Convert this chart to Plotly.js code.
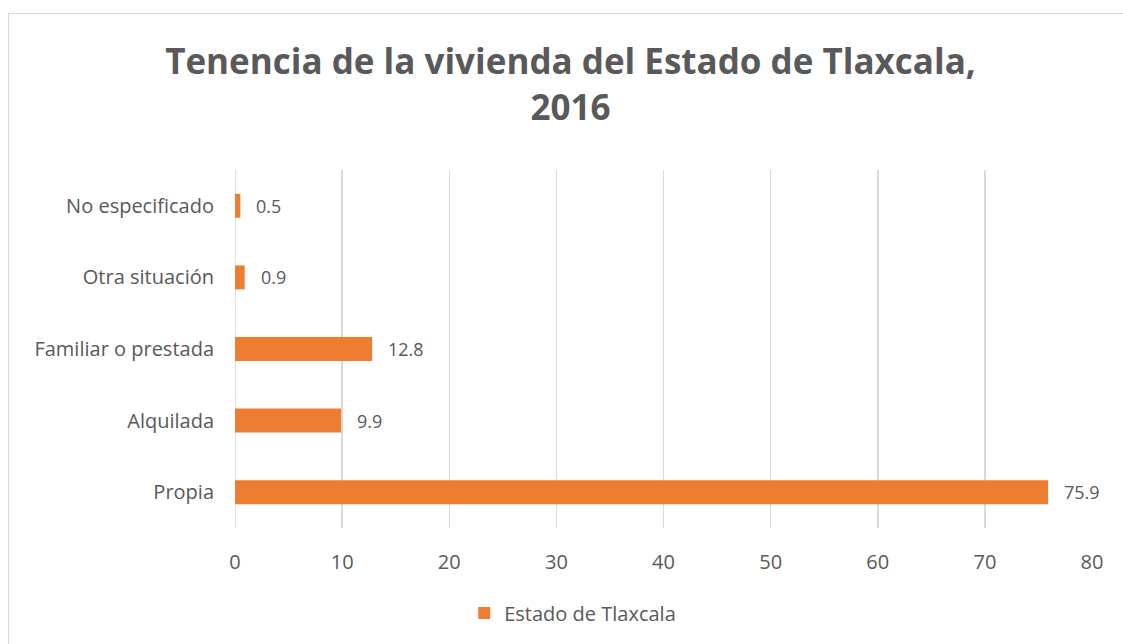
<!DOCTYPE html>
<html>
<head>
<meta charset="utf-8">
<script src="https://cdn.plot.ly/plotly-3.0.1.min.js"></script>
<style>
  html, body { margin: 0; padding: 0; background: #fff; overflow: hidden; }
  #chart { position: absolute; left: 0; top: 0; width: 1123px; height: 644px; }
  #frame { position: absolute; left: 8px; top: 13px; width: 1200px; height: 700px; border: 1.5px solid #D9D9D9; pointer-events: none; }
</style>
</head>
<body>
<div id="chart"></div>
<div id="frame"></div>
<script>
const categories = ["Propia", "Alquilada", "Familiar o prestada", "Otra situación", "No especificado"];
const values = [75.9, 9.9, 12.8, 0.9, 0.5];
const valueLabels = ["75.9", "9.9", "12.8", "0.9", "0.5"];
const seriesName = "Estado de Tlaxcala";
const xTicks = [0, 10, 20, 30, 40, 50, 60, 70, 80];

const FONT = "Open Sans, Calibri, sans-serif";
const TXT = "#595959";

const trace = {
  type: "bar",
  orientation: "h",
  y: categories,
  x: values,
  name: seriesName,
  marker: { color: "#ED7D31" },
  width: 0.335,
  showlegend: true,
  hoverinfo: "none"
};

const annotations = categories.map((c, i) => ({
  x: values[i], y: c, xref: "x", yref: "y",
  text: valueLabels[i], showarrow: false,
  xanchor: "left", yanchor: "middle", xshift: 14,
  font: { family: FONT, size: 18, color: TXT }
}));

const layout = {
  width: 1123, height: 644,
  paper_bgcolor: "#fff", plot_bgcolor: "#fff",
  margin: { l: 235, r: 31, t: 170, b: 116 },
  font: { family: FONT, color: TXT },
  title: {
    text: "<b>Tenencia de la vivienda del Estado de Tlaxcala,<br>2016</b>",
    font: { family: FONT, size: 35, color: TXT },
    x: 0.508, xref: "container", xanchor: "center",
    y: 0.885, yref: "container", yanchor: "top"
  },
  xaxis: {
    range: [0, 80], tickvals: xTicks, ticktext: xTicks.map(String),
    showgrid: true, gridcolor: "#D9D9D9", gridwidth: 1.5,
    zeroline: false, showline: false, ticks: "",
    tickfont: { family: FONT, size: 20, color: TXT },
    ticklabelstandoff: 20, fixedrange: true
  },
  yaxis: {
    type: "category", categoryorder: "array", categoryarray: categories,
    range: [-0.5, 4.5],
    showgrid: false, zeroline: false, showline: false, ticks: "",
    tickfont: { family: FONT, size: 20, color: TXT },
    ticklabelstandoff: 20, fixedrange: true
  },
  annotations: annotations,
  showlegend: true,
  legend: {
    orientation: "h", x: 0.51, xref: "container", xanchor: "center",
    y: 0.048, yref: "container", yanchor: "middle",
    font: { family: FONT, size: 20, color: TXT }
  },
  shapes: [{
    type: "line", xref: "x", yref: "paper", x0: 0, x1: 0, y0: 0, y1: 1,
    line: { color: "#D9D9D9", width: 1.5 }, layer: "below"
  }]
};

Plotly.newPlot("chart", [trace], layout, { displayModeBar: false, staticPlot: true });
</script>
</body>
</html>
